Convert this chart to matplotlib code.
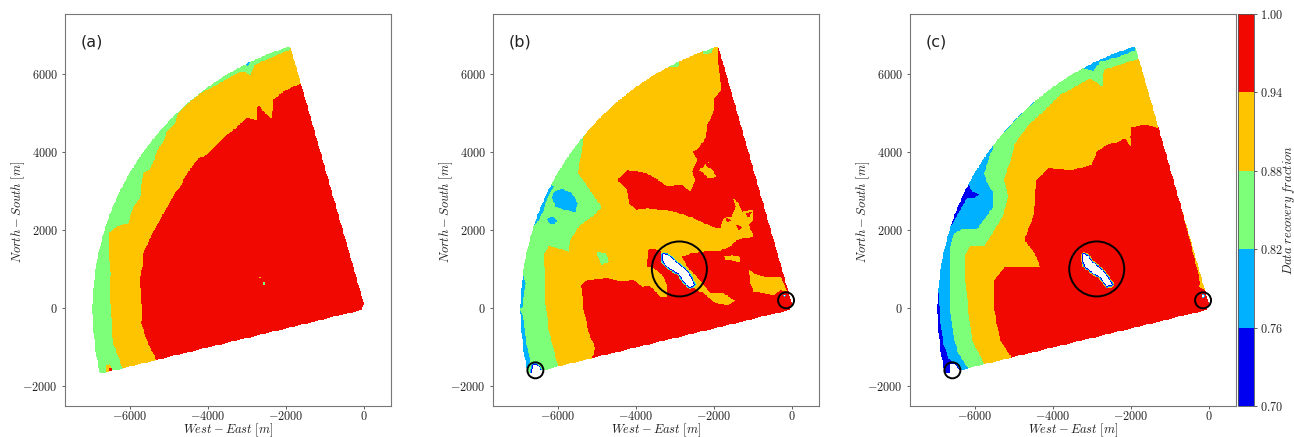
import numpy as np
import matplotlib
matplotlib.use("Agg")
import matplotlib.pyplot as plt
from matplotlib.path import Path
from matplotlib.colors import BoundaryNorm, ListedColormap
from matplotlib.patches import Circle

plt.rcParams['mathtext.fontset'] = 'cm'

levels = [0.70, 0.76, 0.82, 0.88, 0.94, 1.00]
# value given to each band (middle of the band)
BLUE, CYAN, GREEN, ORANGE, RED = 0.73, 0.79, 0.85, 0.91, 0.97

# sector: arc about (-30, 0)
arc_angle = [105.5, 110, 115, 120, 125, 130, 135, 140, 145, 150, 155, 160, 165, 170, 175, 180, 185, 190, 194]
arc_radius = [6975, 6965, 6950, 6940, 6930, 6920, 6915, 6915, 6915, 6918, 6920, 6922, 6925, 6930, 6933, 6935, 6940, 6943, 6946]
apex = [(-60, -43), (-9, 128)]

# panel (a)
a_orange = [(-1881, 6643), (-2326, 6455), (-2753, 6267), (-2822, 6199), (-2924, 5985), (-3095, 6071), (-3266, 6028),
            (-3480, 5900), (-3779, 5729), (-4121, 5558), (-4249, 5472), (-4506, 5258), (-4762, 5002), (-4848, 4745),
            (-5062, 4532), (-5147, 4275), (-5301, 4061), (-5361, 3848), (-5489, 3565), (-5660, 3463), (-5703, 3164),
            (-5746, 2822), (-5917, 2608), (-6045, 2180), (-6344, 2095), (-6558, 1907), (-6541, 1496), (-6498, 898),
            (-6515, 385), (-6472, -385), (-6430, -898), (-6190, -1565), (-6190, -1700), (0, -200), (200, 200),
            (-1700, 6800), (-1881, 6800)]
a_red = [(-1625, 5754), (-1855, 5669), (-2069, 5558), (-2326, 5344), (-2351, 4848), (-2539, 5002), (-2693, 5198),
         (-2753, 5173), (-2753, 4831), (-3010, 4874), (-3352, 4574), (-3523, 4446), (-4036, 3933), (-4249, 3848),
         (-4591, 3377), (-4677, 3164), (-4848, 2950), (-5190, 2351), (-5446, 1881), (-5660, 1411), (-5660, 1112),
         (-5746, 812), (-5746, 599), (-5686, -43), (-5703, -385), (-5575, -812), (-5327, -1325), (-5300, -1500),
         (200, -100), (200, 200), (-1500, 5800)]
a_red_sliver = [(-2368, 5344), (-2197, 5412), (-2240, 5344)]
a_blue_top = [(-3137, 6239), (-2923, 6342), (-2966, 6214)]
a_orange_dot = [(-2690, 810), (-2640, 810), (-2640, 760), (-2690, 760)]
a_green_dot = [(-2600, 660), (-2550, 660), (-2550, 610), (-2600, 610)]
a_orange_corner = [(-6601, -1454), (-6515, -1428), (-6446, -1625), (-6601, -1667)]
a_red_corner = [(-6558, -1539), (-6472, -1539), (-6472, -1650), (-6558, -1650)]

# panel (b)
b_green = [(-5188, 4658), (-5359, 4359), (-5410, 3889), (-5496, 3479), (-5299, 3205), (-5043, 2821), (-4872, 2590),
           (-5128, 2350), (-5470, 2094), (-5684, 1752), (-5726, 1453), (-5983, 1538), (-6239, 1598), (-6368, 1368),
           (-6325, 897), (-6325, 128), (-6239, -556), (-6111, -1068), (-6000, -1496), (-6000, -1900), (-7300, -1900),
           (-7500, 3000), (-5400, 5000)]
b_green_top = [(-3248, 6180), (-3077, 6180), (-2932, 6180), (-2863, 6368), (-2800, 6600), (-3300, 6500)]
b_green_top2 = [(-2291, 6500), (-2051, 6560), (-2000, 6900), (-2300, 6900)]
b_green_island = [(-5017, 1453), (-4786, 1427), (-4692, 1197), (-4897, 1103)]
b_blue_sliver = [(-6214, 3188), (-6111, 3120), (-6282, 2821), (-6368, 2521), (-6496, 2265), (-6667, 2051), (-7000, 2000),
                 (-6600, 3000)]
b_blue_blob = [(-6111, 2991), (-5897, 3060), (-5641, 2949), (-5496, 2692), (-5556, 2461), (-5812, 2521), (-6068, 2607),
               (-6154, 2821)]
b_blue_small = [(-6282, 2282), (-6154, 2350), (-6009, 2248), (-6111, 2154), (-6214, 2179)]
b_blue_left1 = [(-6897, 897), (-6838, 641), (-6880, 299), (-6923, 0), (-7200, 0), (-7200, 900)]
b_blue_left2 = [(-6966, -43), (-6880, -299), (-6838, -726), (-6726, -1325), (-6778, -1581), (-7200, -1600), (-7300, -100)]
b_red = [(-1820, 5598), (-1991, 5385), (-2026, 5000), (-2180, 4701), (-2222, 4359), (-2436, 4060), (-2538, 4017),
         (-2436, 3803), (-2564, 3504), (-2479, 3291), (-2607, 2991), (-2821, 3162), (-3205, 3120), (-3376, 3248),
         (-3718, 3462), (-4231, 3547), (-4487, 3291), (-4231, 3034), (-4188, 2692), (-3974, 2521), (-3974, 769),
         (-4316, 684), (-4744, 769), (-5256, 726), (-5410, 598), (-5342, -43), (-5214, -641), (-5043, -1026),
         (-5128, -1256), (-5128, -1500), (300, -300), (300, 300), (-1906, 6900), (-1906, 6538)]
b_ribbon = [(-4145, 2521), (-3718, 2564), (-3291, 2521), (-2949, 2462), (-2521, 2308), (-2094, 2111), (-1838, 2051),
            (-1752, 2308), (-1538, 2350), (-1453, 2607), (-1513, 2821), (-1368, 2692), (-1282, 2479), (-983, 2521),
            (-983, 2265), (-1111, 2137), (-983, 1838), (-1239, 1795), (-1410, 1752), (-1581, 1581), (-1838, 1479),
            (-2094, 1479), (-2521, 1427), (-2821, 1325), (-2692, 1068), (-2521, 897), (-2265, 598), (-2094, 385),
            (-1752, 385), (-1470, 197), (-1624, 85), (-1966, 128), (-2265, 385), (-2479, 487), (-2692, 684),
            (-2949, 897), (-3205, 1154), (-3291, 1325), (-3376, 1479), (-3675, 1538), (-3718, 1068), (-3547, 1026),
            (-3333, 855), (-3205, 598), (-3205, 282), (-3376, 282), (-3632, 573), (-3846, 556), (-4060, 726),
            (-4145, 812)]
b_orange_isle1 = [(-1752, 1325), (-1538, 1368), (-1342, 1325), (-1325, 1180), (-1538, 1222), (-1709, 1239)]
b_orange_isle2 = [(-1111, 983), (-897, 855), (-684, 812), (-299, 812), (-128, 440), (-299, 470), (-470, 342),
                  (-983, 427), (-1085, 684)]
b_orange_isle3 = [(-2393, 3547), (-2026, 3820), (-2240, 3675), (-2026, 3547), (-1940, 3376), (-2137, 3333), (-2265, 3462)]
b_red_speck1 = [(-1709, 2333), (-1564, 2265), (-1650, 2180)]
b_red_speck2 = [(-1427, 2137), (-1282, 2094), (-1368, 1966)]
b_red_speck3 = [(-1197, 2436), (-1026, 2479), (-1111, 2308)]
b_streak = [(-3316, 1393), (-3205, 1368), (-3077, 1282), (-2949, 1154), (-2778, 1026), (-2650, 897), (-2504, 598),
            (-2624, 538), (-2778, 684), (-2906, 897), (-3077, 983), (-3248, 1111), (-3316, 1239)]
b_hole_corner = [(-6684, -1684), (-6641, -1453), (-6538, -1453), (-6410, -1598), (-6400, -1900), (-6700, -1900)]
b_hole_apex = [(-205, 330), (-175, 330), (-175, 300), (-205, 300)]

# panel (c)
c_green = [(-1880, 6900), (-1897, 6620), (-2325, 6450), (-2795, 6320), (-2966, 6090), (-3265, 6150), (-3692, 5900),
           (-4205, 5560), (-4632, 5150), (-4974, 4810), (-5487, 4274), (-5658, 3803), (-5769, 3462), (-5701, 3248),
           (-5530, 2949), (-5530, 2607), (-5744, 2308), (-5957, 2026), (-6342, 2026), (-6556, 1906), (-6641, 1496),
           (-6658, 812), (-6641, 43), (-6556, -726), (-6427, -1154), (-6188, -1538), (-6188, -1900), (300, -300),
           (300, 300), (-1700, 6900)]
c_orange = [(-1838, 6385), (-2325, 6239), (-2692, 6111), (-2735, 5684), (-3051, 5897), (-3350, 5726), (-3820, 5470),
            (-4205, 5085), (-4632, 4701), (-4974, 4231), (-5060, 3889), (-5256, 3291), (-5145, 2863), (-5316, 2308),
            (-5658, 1752), (-5786, 1581), (-6128, 1581), (-6256, 1368), (-6256, 812), (-6171, -43), (-6085, -812),
            (-5761, -1427), (-5761, -1900), (300, -300), (300, 300), (-1600, 6500)]
c_red = [(-1316, 4632), (-1641, 4701), (-1983, 4641), (-2026, 4402), (-1983, 4103), (-2154, 4359), (-2325, 4274),
         (-2624, 4188), (-2880, 4017), (-3009, 3675), (-3521, 3547), (-4120, 3590), (-4419, 3291), (-4461, 2863),
         (-4504, 2350), (-4735, 1752), (-4461, 1410), (-4333, 1068), (-5231, 1068), (-5504, 726), (-5504, -43),
         (-5359, -812), (-5077, -1256), (-5077, -1500), (300, -300), (200, 100), (-120, 470), (-256, 556), (-230, 641),
         (-290, 940), (-1250, 4700)]
c_blue_upper = [(-6171, 3205), (-6085, 2991), (-5897, 2923), (-6000, 2821), (-6214, 2821), (-6385, 2521), (-6598, 2137),
                (-7000, 2100), (-6600, 3200)]
c_blue_top = [(-3265, 6180), (-2838, 6368), (-2800, 6600), (-3400, 6400)]
c_blue_lower = [(-6940, 385), (-6897, -299), (-6812, -897), (-6684, -1282), (-6556, -1393), (-6513, -1750), (-7100, -1800),
                (-7300, 400)]
c_streak = [(-3222, 1393), (-3111, 1342), (-3009, 1197), (-2795, 1026), (-2667, 897), (-2479, 598), (-2624, 573),
            (-2795, 812), (-2966, 897), (-3180, 1068), (-3239, 1239)]
c_hole_corner = [(-6624, -1427), (-6513, -1427), (-6385, -1598), (-6385, -1900), (-6624, -1900)]
c_hole_apex = [(-165, 340), (-135, 340), (-135, 290), (-165, 290)]

# circles around the holes: x, y, radius
b_circles = [(-2889, 1009, 705), (-6581, -1590, 205), (-154, 205, 205)]
c_circles = [(-2880, 1009, 705), (-6581, -1590, 205), (-154, 205, 205)]

x = np.arange(-7200, 201, 20.0)
y = np.arange(-1900, 7001, 20.0)
xx, yy = np.meshgrid(x, y)
pts = np.column_stack([xx.ravel(), yy.ravel()])


def inside(poly):
    return Path(poly).contains_points(pts).reshape(xx.shape)


def grow(mask):
    out = mask.copy()
    out[1:, :] |= mask[:-1, :]
    out[:-1, :] |= mask[1:, :]
    out[:, 1:] |= mask[:, :-1]
    out[:, :-1] |= mask[:, 1:]
    return out


def make_field(base, layers, holes):
    """paint the layers in order on the sector, then cut the holes with their rings"""
    t = np.radians(arc_angle)
    arc = np.column_stack([-30 + np.array(arc_radius) * np.cos(t), np.array(arc_radius) * np.sin(t)])
    sector = inside(np.vstack([arc, apex]))
    z = np.full(xx.shape, base)
    for value, poly in layers:
        z[inside(poly)] = value
    for hole, rings in holes:
        h = inside(hole)
        m = h
        grown = []
        for _ in rings:
            m = grow(m)
            grown.append(m)
        for value, m in zip(reversed(rings), reversed(grown)):
            z[m] = value
        z[h] = np.nan
    z[~sector] = np.nan
    return np.ma.masked_invalid(z)


a_layers = [(ORANGE, a_orange), (RED, a_red), (RED, a_red_sliver), (CYAN, a_blue_top), (ORANGE, a_orange_dot),
            (GREEN, a_green_dot), (ORANGE, a_orange_corner), (RED, a_red_corner)]
b_layers = [(GREEN, b_green), (GREEN, b_green_top), (GREEN, b_green_top2), (GREEN, b_green_island),
            (CYAN, b_blue_sliver), (CYAN, b_blue_blob), (CYAN, b_blue_small), (CYAN, b_blue_left1), (CYAN, b_blue_left2),
            (RED, b_red), (ORANGE, b_ribbon), (ORANGE, b_orange_isle1), (ORANGE, b_orange_isle2), (ORANGE, b_orange_isle3),
            (RED, b_red_speck1), (RED, b_red_speck2), (RED, b_red_speck3)]
c_layers = [(BLUE, c_blue_upper), (BLUE, c_blue_top), (BLUE, c_blue_lower), (GREEN, c_green), (ORANGE, c_orange), (RED, c_red)]
b_holes = [(b_streak, [BLUE, CYAN, GREEN]), (b_hole_corner, [BLUE, CYAN]), (b_hole_apex, [CYAN])]
c_holes = [(c_streak, [BLUE, CYAN, ORANGE]), (c_hole_corner, [BLUE]), (c_hole_apex, [CYAN])]

panels = [
    ('(a)', 65.3, make_field(GREEN, a_layers, []), []),
    ('(b)', 493.3, make_field(ORANGE, b_layers, b_holes), b_circles),
    ('(c)', 910.3, make_field(CYAN, c_layers, c_holes), c_circles),
]

jet = plt.get_cmap('jet')
cmap = ListedColormap([jet(v) for v in [0.1, 0.3, 0.5, 0.7, 0.9]])
norm = BoundaryNorm(levels, cmap.N)

W, H = 1294.0, 437.0
fig = plt.figure(figsize=(W / 100, H / 100), dpi=100)
for name, left, field, circles in panels:
    ax = fig.add_axes([left / W, (H - 406) / H, 325.4 / W, 392 / H])
    mesh = ax.pcolormesh(x, y, field, cmap=cmap, norm=norm, shading='nearest')
    for cx, cy, r in circles:
        ax.add_patch(Circle((cx, cy), r, fill=False, edgecolor='black', linewidth=1.4))
    ax.set_xlim(-7660, 683)
    ax.set_ylim(-2505, 7546)
    ax.set_xticks([-6000, -4000, -2000, 0])
    ax.set_yticks([-2000, 0, 2000, 4000, 6000])
    ax.xaxis.set_major_formatter(lambda v, p: f'${v:.0f}$')
    ax.yaxis.set_major_formatter(lambda v, p: f'${v:.0f}$')
    ax.tick_params(labelsize=8.8, length=2.5, width=0.6, pad=3, color='#444444', labelcolor='#222222')
    ax.tick_params(axis='x', pad=0.5)
    for s in ax.spines.values():
        s.set_linewidth(0.8)
        s.set_color('#777777')
    ax.set_xlabel(r'$West-East\ [m]$', fontsize=9, labelpad=-1, color='#222222')
    ax.set_ylabel(r'$North-South\ [m]$', fontsize=9, labelpad=-3.5, color='#222222', y=0.495)
    ax.text(0.048, 0.929, name, transform=ax.transAxes, fontsize=11.5, va='center', ha='left', color='#222222')

cax = fig.add_axes([1238.3 / W, (H - 406) / H, 16 / W, 392 / H])
cb = fig.colorbar(mesh, cax=cax, ticks=levels, spacing='proportional')
cb.ax.yaxis.set_major_formatter(lambda v, p: f'${v:.2f}$')
cb.ax.tick_params(labelsize=8.8, length=2, width=0.6, pad=2, color='#444444', labelcolor='#222222')
cb.outline.set_linewidth(0.6)
cb.outline.set_edgecolor('#555555')
cb.set_label(r'$Data\ recovery\ fraction$', fontsize=9, labelpad=-2, color='#222222')

fig.savefig('out.png', dpi=100)
